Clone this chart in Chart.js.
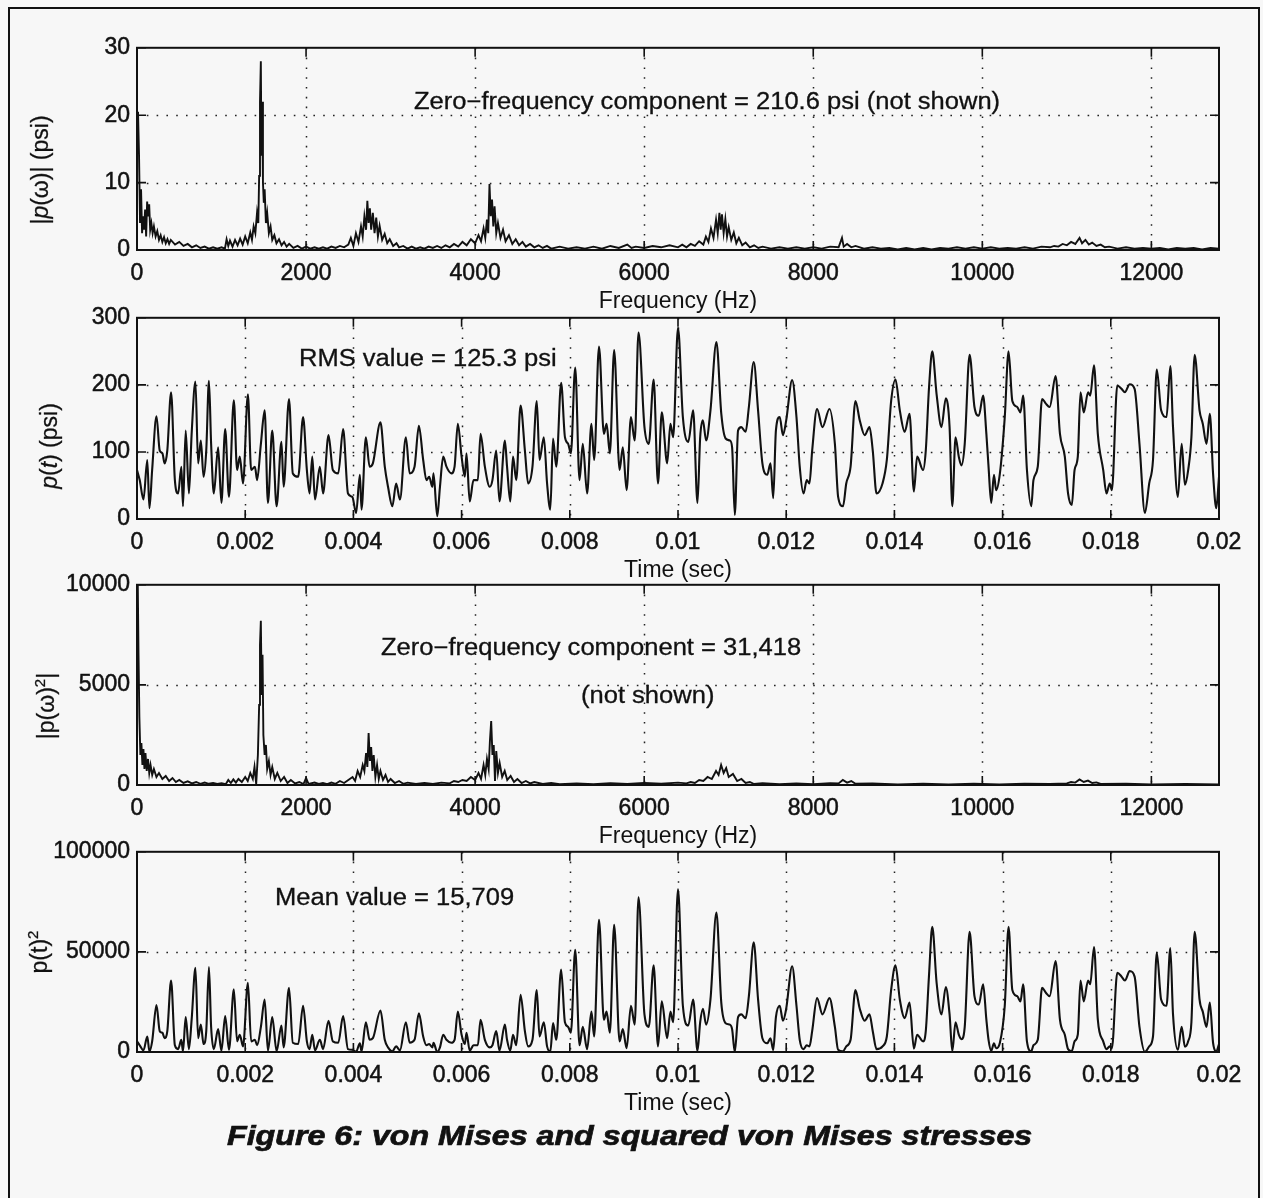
<!DOCTYPE html>
<html>
<head>
<meta charset="utf-8">
<title>Figure 6: von Mises and squared von Mises stresses</title>
<script src="https://cdn.jsdelivr.net/npm/chart.js@4.4.1/dist/chart.umd.min.js"></script>
<style>
  html, body { margin: 0; padding: 0; background: #f7f7f7; }
  body { width: 1263px; height: 1198px; position: relative; overflow: hidden;
         font-family: "Liberation Sans", Arial, Helvetica, sans-serif; color: #111; }
  .frame { position: absolute; left: 8px; top: 7px; width: 1248px; height: 1230px; border: 2px solid #111; }
  canvas.panel { position: absolute; left: 0; }
  .note { position: absolute; font-size: 23px; line-height: 23px; white-space: nowrap;
          -webkit-text-stroke: 0.3px #111; transform-origin: 0 0; transform: scaleX(1.11); }
  .ylab { position: absolute; font-size: 23px; line-height: 23px; white-space: nowrap;
          -webkit-text-stroke: 0.3px #111; transform: translate(-50%, -50%) rotate(-90deg); }
  .sup { font-size: 15px; position: relative; top: -9px; }
  .caption { position: absolute; font-size: 28px; line-height: 28px; font-weight: bold; font-style: italic;
             -webkit-text-stroke: 0.7px #111; white-space: nowrap; transform-origin: 0 0; transform: scaleX(1.15); }
</style>
</head>
<body>
<div class="frame"></div>

<canvas id="specChart" class="panel"></canvas>
<canvas id="timeChart" class="panel"></canvas>
<canvas id="specSqChart" class="panel"></canvas>
<canvas id="timeSqChart" class="panel"></canvas>

<div class="ylab" style="left:40px; top:170px">|<i>p</i>(ω)| (psi)</div>
<div class="ylab" style="left:49px; top:446px"><i>p</i>(<i>t</i>) (psi)</div>
<div class="ylab" style="left:47px; top:706px">|p(ω)<span class="sup">2</span>|</div>
<div class="ylab" style="left:40px; top:952px">p(t)<span class="sup">2</span></div>

<div class="note" style="left:414px; top:90px">Zero−frequency component = 210.6 psi (not shown)</div>
<div class="note" style="left:299px; top:347px">RMS value = 125.3 psi</div>
<div class="note" style="left:381px; top:636px">Zero−frequency component = 31,418</div>
<div class="note" style="left:581px; top:684px">(not shown)</div>
<div class="note" style="left:275px; top:886px">Mean value = 15,709</div>

<div class="caption" style="left:227px; top:1122px">Figure 6: von Mises and squared von Mises stresses</div>

<script>
// |p(w)| spectrum, psi (zero-frequency term left out)
const specHz = [
  12, 24, 36, 48, 60, 72, 84, 96, 108, 120, 132, 144, 156, 170, 185, 200, 220, 240, 260, 280, 300, 320, 340, 360, 380, 400,
  450, 500, 550, 600, 650, 700, 750, 800, 850, 900, 950, 1000, 1040, 1060, 1080, 1100, 1130, 1160, 1190, 1220, 1250, 1280, 1310, 1340, 1360, 1380, 1400,
  1420, 1435, 1445, 1455, 1465, 1472, 1480, 1490, 1500, 1510, 1525, 1540, 1560, 1580, 1600, 1625, 1650, 1680, 1710, 1740, 1770, 1800, 1850, 1900, 1950, 2000, 2050, 2100,
  2150, 2200, 2250, 2300, 2350, 2400, 2450, 2500, 2530, 2560, 2590, 2620, 2650, 2670, 2690, 2710, 2725, 2740, 2755, 2770, 2790, 2810, 2830, 2850, 2870, 2900, 2930, 2960, 2990, 3030, 3070, 3100,
  3150, 3200, 3250, 3300, 3350, 3400, 3450, 3500, 3550, 3600, 3650, 3700, 3750, 3800, 3850, 3900, 3950, 4000,
  4040, 4070, 4100, 4120, 4140, 4155, 4170, 4185, 4200, 4215, 4230, 4250, 4270, 4300, 4330, 4360, 4400, 4440, 4480, 4520, 4560, 4600, 4650, 4700, 4750, 4800, 4850,
  4900, 5000, 5100, 5200, 5300, 5400, 5500, 5600, 5700, 5800, 5850, 5900, 6000, 6100, 6200, 6300, 6400,
  6450, 6500, 6550, 6600, 6650, 6700, 6730, 6760, 6790, 6820, 6850, 6870, 6890, 6905, 6920, 6940, 6960, 6980, 7000, 7030, 7060, 7090, 7120, 7160, 7200, 7250, 7300, 7350, 7400,
  7500, 7600, 7700, 7800, 7900, 8000, 8100, 8200, 8300, 8340, 8360, 8400, 8450, 8500, 8600, 8700, 8800, 8900, 9000, 9100, 9200, 9300, 9400, 9500, 9600, 9700, 9800, 9900, 10000, 10100, 10200, 10300, 10400, 10500, 10600, 10700,
  10800, 10850, 10900, 10950, 11000, 11050, 11100, 11150, 11180, 11220, 11260, 11300, 11350, 11400, 11450, 11500, 11600, 11700, 11800, 11900, 12000, 12100, 12200, 12300, 12400, 12500, 12600, 12700, 12800
];
const specPsi = [
  20.5, 14, 4, 9, 2.5, 5, 3, 6, 2, 7.2, 5, 6.8, 3, 4, 2.5, 3.5, 2, 2.8, 1.5, 2.2, 1.2, 1.9, 1.0, 1.6, 0.9, 1.5,
  0.8, 1.2, 0.6, 0.9, 0.4, 0.7, 0.3, 0.5, 0.2, 0.4, 0.2, 0.4, 0.2, 1.6, 0.6, 1.4, 0.5, 1.5, 0.7, 1.7, 0.8, 2.0, 1.0, 2.6, 1.5, 3.5, 2.5,
  5.5, 4, 11, 22, 28, 14, 22, 10, 7, 9, 4, 5.5, 2.5, 3.5, 1.5, 2.2, 1.0, 1.6, 0.7, 1.2, 0.5, 0.9, 0.3, 0.6, 0.2, 0.5, 0.2, 0.4,
  0.2, 0.4, 0.2, 0.5, 0.3, 0.6, 0.4, 0.8, 1.8, 0.6, 2.5, 1.2, 3.5, 2.0, 5, 3, 7.3, 4, 6.2, 3, 5.5, 2.5, 4.8, 2, 3.6, 1.5, 2.4, 1.0, 1.6, 0.6, 1.0, 0.4,
  0.6, 0.2, 0.5, 0.2, 0.4, 0.2, 0.5, 0.3, 0.6, 0.3, 0.7, 0.4, 0.9, 0.5, 1.2, 0.7, 1.6, 1.0,
  2.2, 1.3, 3.2, 1.8, 4.5, 2.5, 9.8, 5, 7.5, 3.5, 6.5, 2.5, 4, 1.8, 3, 1.3, 2.2, 0.9, 1.6, 0.7, 1.2, 0.5, 0.9, 0.4, 0.7, 0.3, 0.6,
  0.2, 0.5, 0.2, 0.4, 0.2, 0.5, 0.2, 0.6, 0.3, 0.8, 0.3, 0.5, 0.3, 0.6, 0.4, 0.7, 0.4,
  0.8, 0.4, 0.9, 0.6, 1.3, 0.8, 2.0, 1.2, 3.2, 1.8, 4.5, 2.5, 5.5, 3, 5.3, 2.5, 4.6, 2, 3.4, 1.5, 2.6, 1.0, 1.8, 0.7, 1.1, 0.4, 0.7, 0.3, 0.5,
  0.2, 0.4, 0.2, 0.4, 0.2, 0.4, 0.2, 0.5, 0.4, 1.8, 0.5, 0.9, 0.4, 0.6, 0.2, 0.4, 0.2, 0.3, 0.1, 0.3, 0.1, 0.3, 0.1, 0.3, 0.2, 0.4, 0.2, 0.4, 0.2, 0.4, 0.2, 0.3, 0.2, 0.4, 0.2, 0.5,
  0.4, 0.6, 0.5, 0.9, 0.7, 1.2, 0.9, 1.8, 1.0, 1.5, 0.8, 1.1, 0.6, 0.8, 0.4, 0.5, 0.2, 0.4, 0.2, 0.3, 0.2, 0.3, 0.1, 0.3, 0.2, 0.3, 0.1, 0.3, 0.2
];

// p(t) time history: time in ms, stress in psi
const timeMs = [
  0.00, 0.05, 0.12, 0.19, 0.23, 0.28, 0.36, 0.42, 0.47, 0.51, 0.56, 0.63, 0.70, 0.76, 0.82, 0.85, 0.90, 0.96, 1.01, 1.08,
  1.13, 1.18, 1.23, 1.28, 1.33, 1.37, 1.42, 1.50, 1.56, 1.63, 1.70, 1.79, 1.85, 1.90, 1.96, 2.05, 2.11, 2.18, 2.22, 2.29,
  2.36, 2.42, 2.50, 2.58, 2.67, 2.71, 2.81, 2.88, 2.98, 3.07, 3.14, 3.19, 3.24, 3.29, 3.38, 3.44, 3.54, 3.62, 3.72, 3.81,
  3.90, 3.98, 4.05, 4.12, 4.15, 4.23, 4.30, 4.36, 4.50, 4.58, 4.64, 4.72, 4.79, 4.86, 4.97, 5.04, 5.13,
  5.21, 5.29, 5.35, 5.40, 5.46, 5.48, 5.55, 5.60, 5.66, 5.72, 5.81, 5.87, 5.93, 6.00, 6.06, 6.09, 6.15, 6.22, 6.30, 6.35,
  6.43, 6.52, 6.57, 6.64, 6.70, 6.80, 6.84, 6.90, 6.95, 7.01, 7.09, 7.17, 7.23, 7.31, 7.39, 7.44, 7.52, 7.58, 7.64, 7.69,
  7.75, 7.84, 7.91, 7.97, 8.02, 8.10, 8.18, 8.24, 8.32, 8.40, 8.45, 8.54, 8.63, 8.68, 8.74, 8.82, 8.92, 8.98, 9.05, 9.13,
  9.20, 9.27, 9.38, 9.46, 9.55, 9.63, 9.70, 9.80, 9.86, 9.91, 10.00,
  10.09, 10.19, 10.28, 10.36, 10.41, 10.46, 10.52, 10.60, 10.71, 10.80, 10.88, 10.96, 11.00, 11.05, 11.11, 11.17, 11.25, 11.31, 11.40, 11.48,
  11.56, 11.65, 11.71, 11.76, 11.81, 11.88, 11.94, 12.00, 12.11, 12.19, 12.25, 12.32, 12.38, 12.43, 12.48, 12.57, 12.67, 12.80, 12.90, 12.96,
  13.05, 13.11, 13.19, 13.28, 13.36, 13.45, 13.54, 13.60, 13.67, 13.78, 13.86, 13.94, 14.02, 14.10, 14.19, 14.28, 14.36, 14.42, 14.53, 14.58,
  14.64, 14.70, 14.78, 14.87, 14.95, 15.02, 15.07, 15.13, 15.19,
  15.24, 15.30, 15.39, 15.48, 15.56, 15.64, 15.70, 15.74, 15.79, 15.84, 15.88, 15.95, 16.04, 16.11, 16.18, 16.27, 16.33, 16.38, 16.45, 16.53,
  16.57, 16.65, 16.73, 16.80, 16.87, 16.98, 17.06, 17.15, 17.21, 17.28, 17.33, 17.39, 17.44, 17.50, 17.58, 17.62, 17.69, 17.76, 17.86, 17.92,
  17.98, 18.02, 18.12, 18.20, 18.26, 18.35, 18.44, 18.53, 18.63, 18.71, 18.78, 18.85, 18.93, 19.03, 19.10, 19.15, 19.24, 19.31, 19.37, 19.43,
  19.49, 19.55, 19.64, 19.70, 19.77, 19.83, 19.89, 19.95, 20.00
];
const pPsi = [
  73, 58, 29, 88, 16, 73, 153, 102, 98, 83, 102, 189, 58, 38, 78, 19, 132, 38, 127, 205,
  83, 117, 63, 102, 206, 112, 38, 107, 24, 134, 33, 177, 73, 93, 53, 186, 73, 78, 58, 112,
  162, 24, 132, 19, 115, 48, 179, 68, 63, 152, 73, 38, 93, 29, 78, 38, 125, 73, 68, 134,
  38, 33, 9, 66, 14, 122, 78, 83, 144, 78, 48, 19, 53, 29, 122, 68, 78,
  139, 88, 58, 63, 48, 68, 4, 48, 93, 78, 68, 78, 142, 93, 63, 98, 26, 58, 58, 127,
  78, 48, 58, 102, 26, 117, 78, 26, 93, 58, 169, 102, 53, 78, 176, 88, 122, 53, 14, 120,
  78, 203, 122, 112, 98, 226, 58, 112, 38, 142, 88, 257, 127, 142, 98, 252, 73, 107, 43, 152,
  117, 278, 137, 112, 208, 53, 159, 83, 142, 122, 285,
  152, 115, 162, 24, 122, 147, 117, 162, 264, 157, 120, 117, 107, 6, 132, 137, 130, 167, 234, 162,
  83, 66, 83, 31, 132, 152, 125, 147, 207, 152, 78, 38, 58, 53, 102, 164, 137, 164, 112, 33,
  19, 53, 78, 176, 147, 125, 137, 102, 38, 53, 88, 176, 208, 162, 130, 157, 41, 93, 73, 102,
  196, 250, 186, 137, 180, 137, 19, 122, 93,
  80, 112, 245, 167, 154, 184, 127, 78, 24, 66, 43, 68, 152, 250, 176, 167, 159, 184, 73, 19,
  58, 78, 179, 172, 167, 213, 127, 93, 38, 21, 73, 93, 189, 159, 189, 184, 229, 127, 73, 38,
  53, 43, 199, 194, 189, 201, 194, 112, 9, 53, 88, 223, 162, 152, 228, 137, 33, 112, 51, 73,
  122, 245, 162, 142, 112, 157, 68, 16, 63
];

// spectrum of p(t)^2 (zero-frequency term left out)
const sqHz = [
  8, 18, 28, 40, 52, 64, 76, 88, 100, 115, 130, 145, 160, 180, 200, 230, 260, 300, 340, 380, 420, 460, 500,
  550, 600, 650, 700, 750, 800, 850, 900, 950, 1000, 1050, 1080, 1110, 1140, 1170, 1200, 1240, 1280, 1310, 1340, 1370, 1390, 1410,
  1430, 1445, 1455, 1465, 1475, 1485, 1495, 1510, 1525, 1540, 1560, 1580, 1600, 1630, 1660, 1700, 1740, 1780, 1820, 1870, 1920, 1970, 2000, 2030,
  2100, 2150, 2200, 2250, 2300, 2350, 2400, 2450, 2500, 2550, 2580, 2610, 2640, 2670, 2690, 2710, 2725, 2740, 2755, 2770, 2785, 2800, 2820, 2840, 2860, 2880, 2910, 2940, 2970, 3000,
  3050, 3100, 3150, 3200, 3300, 3400, 3500, 3600, 3700, 3750, 3800, 3850, 3900, 3950, 4000,
  4040, 4070, 4100, 4120, 4140, 4160, 4175, 4190, 4205, 4220, 4235, 4250, 4270, 4290, 4320, 4350, 4380, 4420, 4460, 4500, 4550, 4600, 4650, 4700,
  4800, 4900, 5000, 5200, 5400, 5600, 5800, 6000, 6200, 6400, 6500, 6550, 6600, 6650, 6700, 6750, 6800, 6850, 6880, 6910, 6940, 6970, 7000, 7050, 7100, 7150, 7200, 7250, 7300,
  7400, 7600, 7800, 8000, 8200, 8300, 8350, 8400, 8450, 8500, 8700, 9000, 9300, 9600, 9900, 10200, 10500, 10800, 11000, 11050, 11100, 11150, 11200, 11250, 11300, 11350, 11400, 11700, 12000, 12400, 12800
];
const sqAmp = [
  10500, 6500, 3400, 1500, 2100, 1000, 1800, 800, 1600, 700, 1300, 600, 1000, 500, 800, 400, 600, 300, 450, 200, 350, 150, 250,
  100, 180, 80, 150, 60, 120, 60, 100, 50, 90, 40, 250, 100, 280, 120, 300, 150, 400, 200, 600, 300, 900, 50,
  1500, 4000, 7000, 8200, 4500, 6500, 2500, 1500, 2000, 800, 1200, 500, 900, 300, 600, 200, 400, 100, 250, 80, 150, 50, 350, 50,
  120, 50, 100, 40, 120, 60, 200, 100, 250, 400, 200, 700, 400, 1000, 700, 1600, 900, 2600, 1200, 1900, 700, 1500, 400, 1000, 300, 700, 250, 500, 150, 300,
  100, 200, 60, 120, 50, 100, 50, 120, 80, 200, 150, 250, 200, 400, 250,
  600, 300, 1000, 500, 1300, 800, 2200, 3200, 1500, 2000, 200, 1700, 600, 1100, 400, 700, 250, 450, 150, 300, 100, 200, 80, 150,
  50, 100, 40, 80, 40, 90, 50, 100, 60, 120, 80, 150, 100, 250, 200, 400, 300, 700, 500, 1000, 600, 850, 400, 550, 200, 300, 100, 150, 50,
  90, 40, 80, 40, 90, 80, 250, 120, 200, 60, 80, 30, 60, 30, 60, 30, 70, 50, 80, 150, 120, 280, 150, 220, 100, 130, 50, 60, 30, 50, 30
];

// p(t)^2 is the square of the time history above
const pSquared = pPsi.map(v => v * v);

// axis ranges and tick marks
const freqTickVals = [0, 2000, 4000, 6000, 8000, 10000, 12000];
const timeTickVals = [0, 0.002, 0.004, 0.006, 0.008, 0.01, 0.012, 0.014, 0.016, 0.018, 0.02];
const freqRange = { min: 0, max: 12800, ticks: freqTickVals };
const timeRange = { min: 0, max: 0.02, ticks: timeTickVals };

const INK = '#111';
const PAGE_W = 1263;
const PLOT_LEFT = 137;
const PLOT_RIGHT = 1219;
const PAD_TOP = 20;
const X_AXIS_H = 69;
const PANEL_TOP = [47, 317, 584, 851];
const PANEL_H = [203, 202, 201, 201];

Chart.defaults.font.family = '"Liberation Sans", Arial, Helvetica, sans-serif';
Chart.defaults.font.size = 23;
Chart.defaults.color = INK;

// dotted grid, inward ticks on all four sides and a closed box, like the old plot
const matlabAxes = {
  id: 'matlabAxes',
  beforeDatasetsDraw(chart) {
    const { ctx, chartArea: a, scales: { x, y } } = chart;
    ctx.save();
    ctx.strokeStyle = '#222';
    ctx.lineWidth = 1.5;
    ctx.setLineDash([1.6, 8.2]);
    ctx.beginPath();
    x.ticks.forEach(t => {
      const px = Math.round(x.getPixelForValue(t.value)) + 0.5;
      if (px <= a.left + 2 || px >= a.right - 2) return;
      ctx.moveTo(px, a.top);
      ctx.lineTo(px, a.bottom);
    });
    y.ticks.forEach(t => {
      const py = Math.round(y.getPixelForValue(t.value)) + 0.5;
      if (py <= a.top + 2 || py >= a.bottom - 2) return;
      ctx.moveTo(a.left, py);
      ctx.lineTo(a.right, py);
    });
    ctx.stroke();
    ctx.restore();
  },
  afterDatasetsDraw(chart) {
    const { ctx, chartArea: a, scales: { x, y } } = chart;
    const len = 9;
    ctx.save();
    ctx.strokeStyle = INK;
    ctx.lineWidth = 1.6;
    ctx.beginPath();
    x.ticks.forEach(t => {
      const px = x.getPixelForValue(t.value);
      ctx.moveTo(px, a.bottom); ctx.lineTo(px, a.bottom - len);
      ctx.moveTo(px, a.top); ctx.lineTo(px, a.top + len);
    });
    y.ticks.forEach(t => {
      const py = y.getPixelForValue(t.value);
      ctx.moveTo(a.left, py); ctx.lineTo(a.left + len, py);
      ctx.moveTo(a.right, py); ctx.lineTo(a.right - len, py);
    });
    ctx.stroke();
    ctx.lineWidth = 2;
    ctx.strokeRect(a.left, a.top, a.right - a.left, a.bottom - a.top);
    ctx.restore();
  }
};

const fmtTick = v => String(Math.round(v * 1e6) / 1e6);

function drawPanel(canvasId, k, xs, ys, xRange, xTitle, yMax, yStep, line) {
  const canvas = document.getElementById(canvasId);
  canvas.width = PAGE_W;
  canvas.height = PAD_TOP + PANEL_H[k] + X_AXIS_H;
  canvas.style.top = (PANEL_TOP[k] - PAD_TOP) + 'px';

  const points = xs.map((v, i) => ({ x: v * line.xFactor, y: ys[i] }));

  return new Chart(canvas, {
    type: 'line',
    data: {
      datasets: [{
        data: points,
        borderColor: INK,
        borderWidth: line.width,
        pointRadius: 0,
        cubicInterpolationMode: line.smooth ? 'monotone' : 'default',
        tension: 0,
        fill: false
      }]
    },
    options: {
      responsive: false,
      animation: false,
      events: [],
      layout: { padding: { top: PAD_TOP, right: PAGE_W - PLOT_RIGHT, left: 0, bottom: 0 } },
      plugins: { legend: { display: false }, tooltip: { enabled: false } },
      scales: {
        x: {
          type: 'linear',
          min: xRange.min,
          max: xRange.max,
          afterBuildTicks: s => { s.ticks = xRange.ticks.map(v => ({ value: v })); },
          afterFit: s => { s.height = X_AXIS_H; },
          grid: { display: false, drawTicks: false },
          border: { display: false },
          ticks: { autoSkip: false, maxRotation: 0, padding: 10, color: INK,
                   textStrokeColor: INK, textStrokeWidth: 0.5, callback: fmtTick },
          title: { display: true, text: xTitle, color: INK, padding: { top: 0, bottom: 4 } }
        },
        y: {
          min: 0,
          max: yMax,
          afterFit: s => { s.width = PLOT_LEFT; },
          grid: { display: false, drawTicks: false },
          border: { display: false },
          ticks: { stepSize: yStep, padding: 7, color: INK,
                   textStrokeColor: INK, textStrokeWidth: 0.5, callback: fmtTick }
        }
      }
    },
    plugins: [matlabAxes]
  });
}

drawPanel('specChart', 0, specHz, specPsi, freqRange, 'Frequency (Hz)', 30, 10, { width: 1.9, xFactor: 1, smooth: false });
drawPanel('timeChart', 1, timeMs, pPsi, timeRange, 'Time (sec)', 300, 100, { width: 2.1, xFactor: 0.001, smooth: true });
drawPanel('specSqChart', 2, sqHz, sqAmp, freqRange, 'Frequency (Hz)', 10000, 5000, { width: 1.9, xFactor: 1, smooth: false });
drawPanel('timeSqChart', 3, timeMs, pSquared, timeRange, 'Time (sec)', 100000, 50000, { width: 2.1, xFactor: 0.001, smooth: true });
</script>
</body>
</html>
